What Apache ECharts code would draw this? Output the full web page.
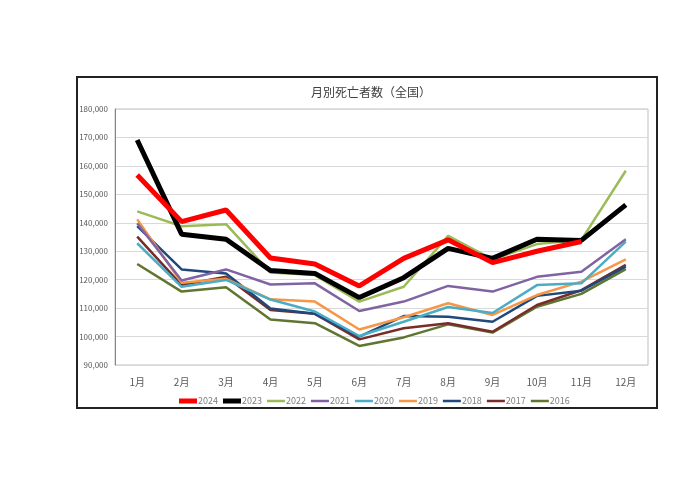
<!DOCTYPE html>
<html><head><meta charset="utf-8">
<script src="https://cdn.jsdelivr.net/npm/echarts@6/dist/echarts.min.js"></script>
<style>html,body{margin:0;padding:0;background:#fff}#c{width:700px;height:485px}</style>
</head><body><div id="c"></div>
<script>
const months = ['1月','2月','3月','4月','5月','6月','7月','8月','9月','10月','11月','12月'];
const y2024 = [156800,140400,144500,127600,125500,117800,127500,134000,126000,130000,133400,null];
const y2023 = [169100,136000,134200,123200,122200,113700,120700,131000,127500,134200,133800,146300];
const y2022 = [144000,138800,139500,122500,121600,112300,117500,135400,127100,132500,134000,158300];
const y2021 = [139800,119700,123600,118300,118700,109000,112300,117800,115800,121000,122800,134200];
const y2020 = [132800,117500,119900,113000,108800,100200,105200,110400,108300,118100,118700,133400];
const y2019 = [141200,118900,120300,113100,112300,102500,106800,111700,107600,114600,119300,127100];
const y2018 = [138800,123600,122200,109900,108000,100000,107200,107000,105200,114300,116100,124600];
const y2017 = [135100,118100,121000,109300,108000,99000,102900,104700,101700,111100,116300,125200];
const y2016 = [125500,115800,117300,106000,104700,96700,99700,104300,101400,110500,115000,123700];
const names = ['2024','2023','2022','2021','2020','2019','2018','2017','2016'];
const colors = ['#ff0000','#000000','#9bbb59','#8064a2','#4bacc6','#f79646','#1f497d','#772c2a','#5f7530'];
const widths = [5,5,2.5,2.5,2.5,2.5,2.5,2.5,2.5];
const dataSets = [y2024,y2023,y2022,y2021,y2020,y2019,y2018,y2017,y2016];
const FONT = '"Noto Sans CJK JP", "Noto Sans", sans-serif';

const thickIcon = 'path://M0,0h0.05v0.05h-0.05zM0,4.5h18v5h-18zM17.95,13.95h0.05v0.05h-0.05z';
const thinIcon = 'path://M0,0h0.05v0.05h-0.05zM0,5.75h18v2.5h-18zM17.95,13.95h0.05v0.05h-0.05z';

const series = names.map((n,i)=>({
  name:n, type:'line', data:dataSets[i], symbol:'none', smooth:false,
  lineStyle:{color:colors[i], width:widths[i]}, itemStyle:{color:colors[i]},
  z: 20 - i, connectNulls:false
}));

const chart = echarts.init(document.getElementById('c'), null, {renderer:'canvas'});
chart.setOption({
  animation:false,
  backgroundColor:'#ffffff',
  title:{text:'月別死亡者数（全国）', left:366, top:81, textAlign:'center',
    textStyle:{fontFamily:FONT, fontSize:12, fontWeight:'normal', color:'#404040'}},
  graphic:[{type:'rect', shape:{x:77, y:77, width:580, height:331},
    style:{fill:'none', stroke:'#222', lineWidth:2}, silent:true}],
  legend:{data:names.map((n,i)=>({name:n, icon: widths[i]>3 ? thickIcon : thinIcon,
      itemStyle:{color:colors[i], borderWidth:0}})),
    left:174, top:389, itemWidth:18, itemHeight:14, itemGap:5, symbolKeepAspect:false,
    textStyle:{fontFamily:FONT, fontSize:9, color:'#7f7f7f', padding:[0,0,0,-4]}},
  grid:{left:115, right:52, top:109, bottom:120, show:true, borderColor:'#bfbfbf', borderWidth:1},
  xAxis:{type:'category', data:months, boundaryGap:true,
    axisLine:{show:false}, axisTick:{show:false},
    axisLabel:{fontFamily:FONT, fontSize:10, color:'#595959', margin:12}},
  yAxis:{type:'value', min:90000, max:180000, interval:10000,
    axisLine:{show:true, lineStyle:{color:'#868686', width:1}}, axisTick:{show:false},
    splitLine:{lineStyle:{color:'#d9d9d9'}},
    axisLabel:{fontFamily:FONT, fontSize:8, color:'#595959', margin:7,
      formatter:v=>v.toLocaleString('en-US')}},
  series:series
});
</script></body></html>
